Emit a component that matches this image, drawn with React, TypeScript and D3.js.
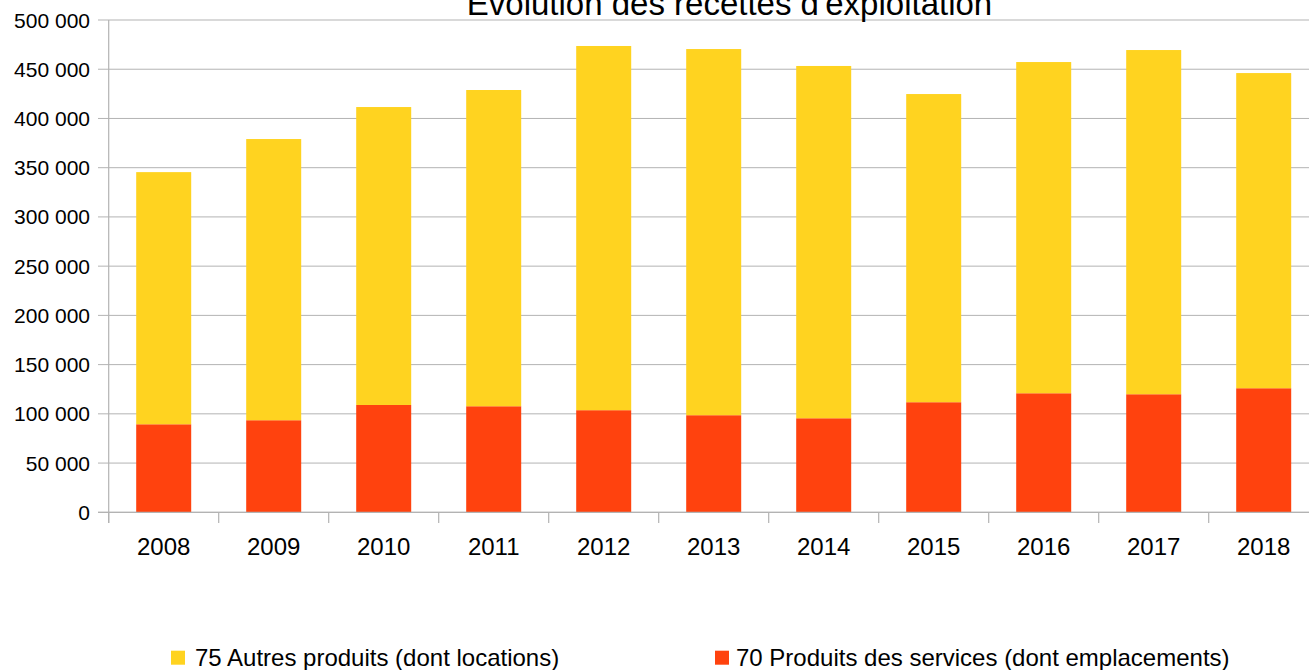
import React from "react";
import * as d3 from "d3";

const years = ["2008", "2009", "2010", "2011", "2012", "2013", "2014", "2015", "2016", "2017", "2018"];
// 70 Produits des services (dont emplacements)
const services = [89400, 93500, 109000, 107700, 103700, 98600, 95500, 111800, 120900, 119900, 126000];
// 75 Autres produits (dont locations)
const autres = [256100, 285600, 302600, 321200, 369900, 371900, 357800, 313000, 336400, 349600, 320100];
const yTicks = [0, 50000, 100000, 150000, 200000, 250000, 300000, 350000, 400000, 450000, 500000];
const seriesNames = ["70 Produits des services (dont emplacements)", "75 Autres produits (dont locations)"];
const title = "Evolution des recettes d'exploitation";

const W = 1309, H = 670;
const RED = "#ff420e", YELLOW = "#ffd320", GRID = "#b3b3b3";
const FONT = "'Liberation Sans', Arial, sans-serif";

const fmt = (v: number) => d3.format(",")(v).replace(/,/g, " ");

export default function App() {
  const x = d3.scaleBand<string>().domain(years).range([108.7, 1318.7]).paddingInner(0.5).paddingOuter(0.25);
  const y = d3.scaleLinear().domain([0, 500000]).range([512.3, 20]);
  const rows = years.map((yr, i) => ({ year: yr, s70: services[i], s75: autres[i] }));
  const stacked = d3.stack<any>().keys(["s70", "s75"])(rows);
  const colors = [RED, YELLOW];
  const step = x.step();
  const x0 = 108.7;

  return (
    <svg width={W} height={H} style={{ position: "absolute", left: 0, top: 0, background: "#fff" }} fontFamily={FONT}>
      <rect x={0} y={0} width={W} height={H} fill="#fff" />
      {yTicks.map((t) => (
        <g key={t}>
          <line x1={98} x2={1318} y1={y(t)} y2={y(t)} stroke={GRID} strokeWidth={1} />
          <text x={90} y={y(t)} dy="0.36em" textAnchor="end" fontSize={21} fill="#000">{fmt(t)}</text>
        </g>
      ))}
      {stacked.map((s, si) => (
        <g key={si} fill={colors[si]}>
          {s.map((d: any) => (
            <rect key={d.data.year} x={x(d.data.year)} y={y(d[1])} width={x.bandwidth()} height={y(d[0]) - y(d[1])} />
          ))}
        </g>
      ))}
      <line x1={x0} x2={x0} y1={20} y2={523} stroke={GRID} strokeWidth={1.2} />
      <line x1={98} x2={1318} y1={y(0)} y2={y(0)} stroke={GRID} strokeWidth={1.2} />
      {d3.range(years.length + 1).map((i) => (
        <line key={i} x1={x0 + i * step} x2={x0 + i * step} y1={y(0)} y2={523} stroke={GRID} strokeWidth={1.2} />
      ))}
      {years.map((yr) => (
        <text key={yr} x={(x(yr) as number) + x.bandwidth() / 2} y={555} textAnchor="middle" fontSize={24} fill="#000">{yr}</text>
      ))}
      <text x={729.5} y={15} textAnchor="middle" fontSize={33} fill="#000">{title}</text>
      <rect x={171} y={650.7} width={14} height={14} fill={YELLOW} />
      <text x={195} y={666} fontSize={24} fill="#000">{seriesNames[1]}</text>
      <rect x={715} y={650.7} width={14} height={14} fill={RED} />
      <text x={736} y={666} fontSize={24} fill="#000">{seriesNames[0]}</text>
    </svg>
  );
}
